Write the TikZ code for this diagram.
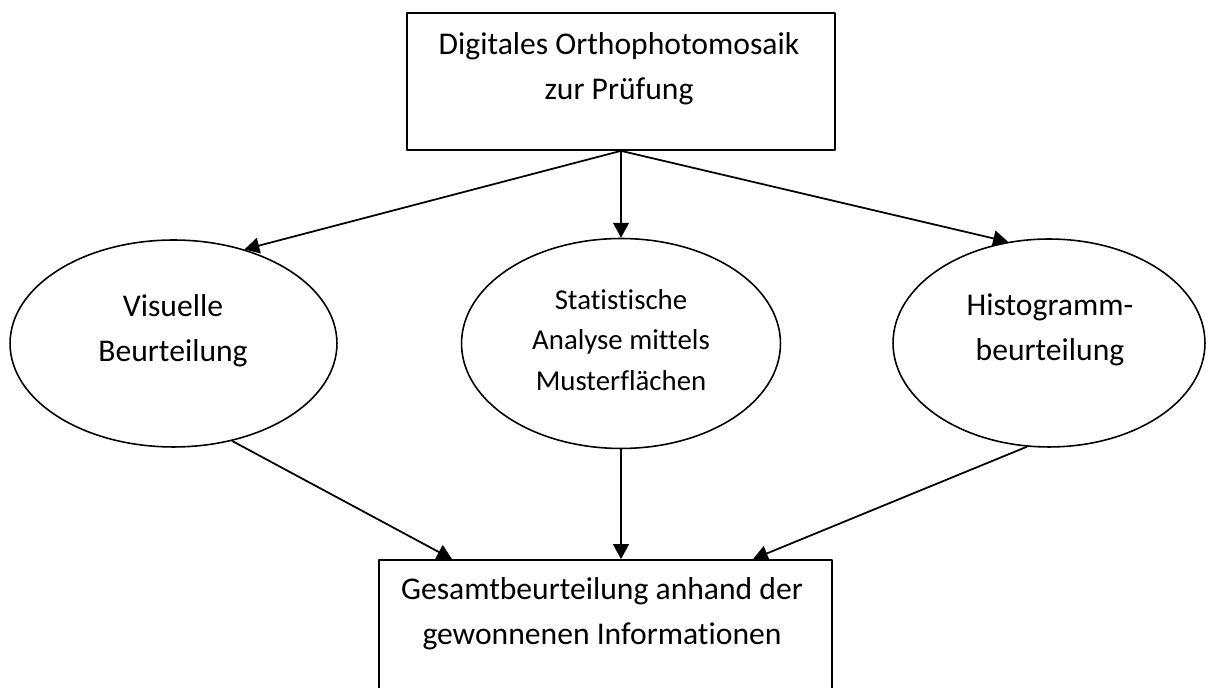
\documentclass[tikz,border=0pt]{standalone}
\usepackage{fontspec}
\setmainfont{Carlito}[Ligatures=NoCommon]
\usetikzlibrary{arrows.meta,shapes.geometric}
\begin{document}
\begin{tikzpicture}[x=0.02cm,y=-0.02cm,line join=round,>={Triangle[width=9pt,length=8.5pt]},
	kasten/.style={draw,line width=1pt,rectangle,inner sep=0pt},
	oval/.style={draw,line width=0.9pt,ellipse,inner sep=0pt},
	schrift/.style={align=center,font=\fontsize{18}{25.5}\selectfont},
	klein/.style={align=center,font=\fontsize{16.4}{23}\selectfont},
	pfeil/.style={->,line width=1pt}]
	\useasboundingbox (0,0) rectangle (1208,688);
	\node[kasten,minimum width=8.56cm,minimum height=2.74cm] (ortho) at (621,81.5) {};
	\node[oval,minimum width=6.54cm,minimum height=4.14cm] (visu) at (173.5,343.5) {};
	\node[oval,minimum width=6.38cm,minimum height=4.2cm] (stat) at (621,343.5) {};
	\node[oval,minimum width=6.24cm,minimum height=4.16cm] (histo) at (1049,343) {};
	\node[kasten,minimum width=9.06cm,minimum height=3cm] (gesamt) at (605.5,635) {};
	\node[schrift] (orthoT) at (619,69) {Digitales Orthophotomosaik\\zur Prüfung};
	\node[schrift] (visuT) at (173,331) {Visuelle\\Beurteilung};
	\node[klein] (statT) at (621,340) {Statistische\\Analyse mittels\\Musterflächen};
	\node[schrift] (histoT) at (1050,330) {Histogramm-\\beurteilung};
	\node[schrift] (gesamtT) at (602,614) {Gesamtbeurteilung anhand der\\gewonnenen Informationen};
	\draw[pfeil] (ortho.south) -- (visu.53);
	\draw[pfeil] (ortho.south) -- (stat.north);
	\draw[pfeil] (ortho.south) -- (histo.112);
	\draw[pfeil] (visu.-59) -- ([xshift=-3.07cm]gesamt.north);
	\draw[pfeil] (stat.south) -- (stat.south |- gesamt.north);
	\draw[pfeil] (histo.-102) -- ([xshift=2.95cm]gesamt.north);
\end{tikzpicture}
\end{document}
